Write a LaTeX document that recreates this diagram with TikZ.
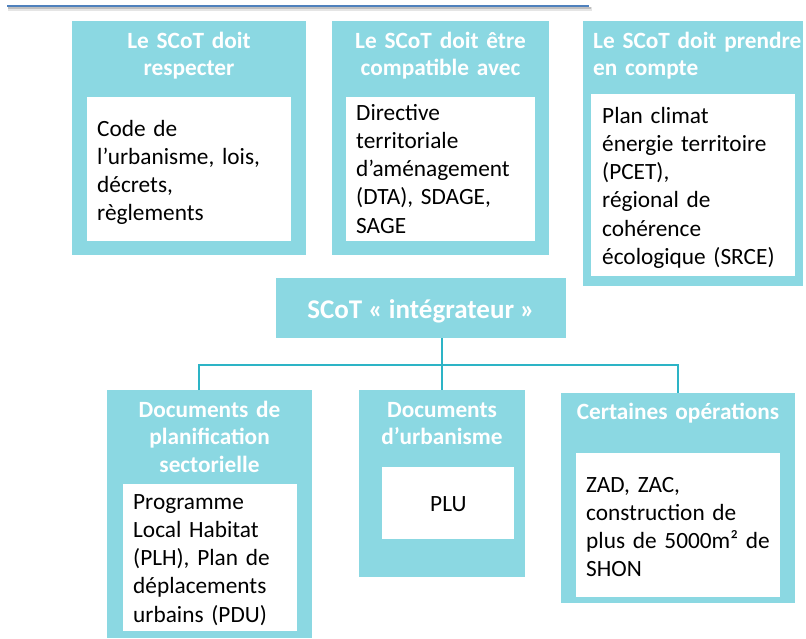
\documentclass[tikz,border=0pt]{standalone}
\usepackage{fontspec}
\setmainfont{Carlito}
\definecolor{boxfill}{RGB}{139,216,226}
\definecolor{busline}{RGB}{45,180,198}
\definecolor{rulebl}{RGB}{79,129,189}
\newcommand\hdfont{\bfseries\fontsize{23.3}{27.7}\selectfont}
\newcommand\bdfont{\fontsize{23.3}{28.2}\selectfont}
\begin{document}
\begin{tikzpicture}[x=1pt,y=-1pt,
  panel/.style={fill=boxfill, draw=none, anchor=north west, inner sep=0, outer sep=0},
  sheet/.style={fill=white, draw=none, anchor=north west, inner sep=0, outer sep=0},
  head/.style={text=white, inner sep=0, font=\hdfont, anchor=north, align=center},
  body/.style={text=black, inner sep=0, font=\bdfont, anchor=north west, align=left, text width=215},
  conn/.style={draw=busline, line width=2.4}]
\useasboundingbox (0,0) rectangle (806,639);

% header rule with its soft shadow
\draw[line width=4, black!10] (8,9.2) -- (592,9.2);
\draw[line width=2.6, black!25] (8,8.2) -- (591,8.2);
\draw[line width=2.8, rulebl] (7,6) -- (589,6);

% upper row of panels
\node[panel, minimum width=234, minimum height=234] (b1) at (72,21) {};
\node[sheet, minimum width=204, minimum height=144] (s1) at (87,97) {};
\node[panel, minimum width=217, minimum height=234] (b2) at (332,21) {};
\node[sheet, minimum width=189, minimum height=144] (s2) at (346,97) {};
\node[panel, minimum width=220, minimum height=265] (b3) at (583,21) {};
\node[sheet, minimum width=204, minimum height=182] (s3) at (591,94) {};

\node[head, text width=234] (h1) at (189,28.6) {\strut Le SCoT doit\\respecter};
\node[head, text width=217] (h2) at (440.5,28.6) {\strut Le SCoT doit être\\compatible avec};
\node[head, anchor=north west, align=left, text width=215] (h3) at (593,28.6) {\strut Le SCoT doit prendre\\en compte};

\node[body] (t1) at (97,116.3) {\strut Code de\\l’urbanisme, lois,\\décrets,\\règlements};
\node[body] (t2) at (356,100.3) {\strut Directive\\territoriale\\d’aménagement\\(DTA), SDAGE,\\SAGE};
\node[body] (t3) at (602,103.3) {\strut Plan climat\\énergie territoire\\(PCET),\\régional de\\cohérence\\écologique (SRCE)};

% central panel
\node[panel, minimum width=290, minimum height=60] (c) at (276,278) {};
\node[text=white, inner sep=0, anchor=base, font=\bfseries\fontsize{27}{32}\selectfont] (ct) at (421,318) {SCoT « intégrateur »};

% lower row of panels
\node[panel, minimum width=205, minimum height=248] (L) at (107,390) {};
\node[sheet, minimum width=174, minimum height=147] (sL) at (123,484) {};
\node[panel, minimum width=166, minimum height=187] (M) at (359,390) {};
\node[sheet, minimum width=132, minimum height=72] (sM) at (382,467) {};
\node[panel, minimum width=234, minimum height=210] (R) at (561,393) {};
\node[sheet, minimum width=204, minimum height=144] (sR) at (576,453) {};

\node[head, text width=205] (hL) at (209.5,397.6) {\strut Documents de\\planification\\sectorielle};
\node[head, text width=166] (hM) at (442,397.6) {\strut Documents\\d’urbanisme};
\node[head, text width=234] (hR) at (678,399.6) {\strut Certaines opérations};

\node[body] (tL) at (133,489.3) {\strut Programme\\Local Habitat\\(PLH), Plan de\\déplacements\\urbains (PDU)};
\node[body] (tM) at (430,491.3) {\strut PLU};
\node[body] (tR) at (586,472.3) {\strut ZAD, ZAC,\\construction de\\plus de 5000m² de\\SHON};

% connectors
\coordinate (busL) at (199,365);
\draw[conn] (M.north |- c.south) -- (M.north);
\draw[conn] (busL |- L.north) -- (busL) -| (R.north);
\end{tikzpicture}
\end{document}
